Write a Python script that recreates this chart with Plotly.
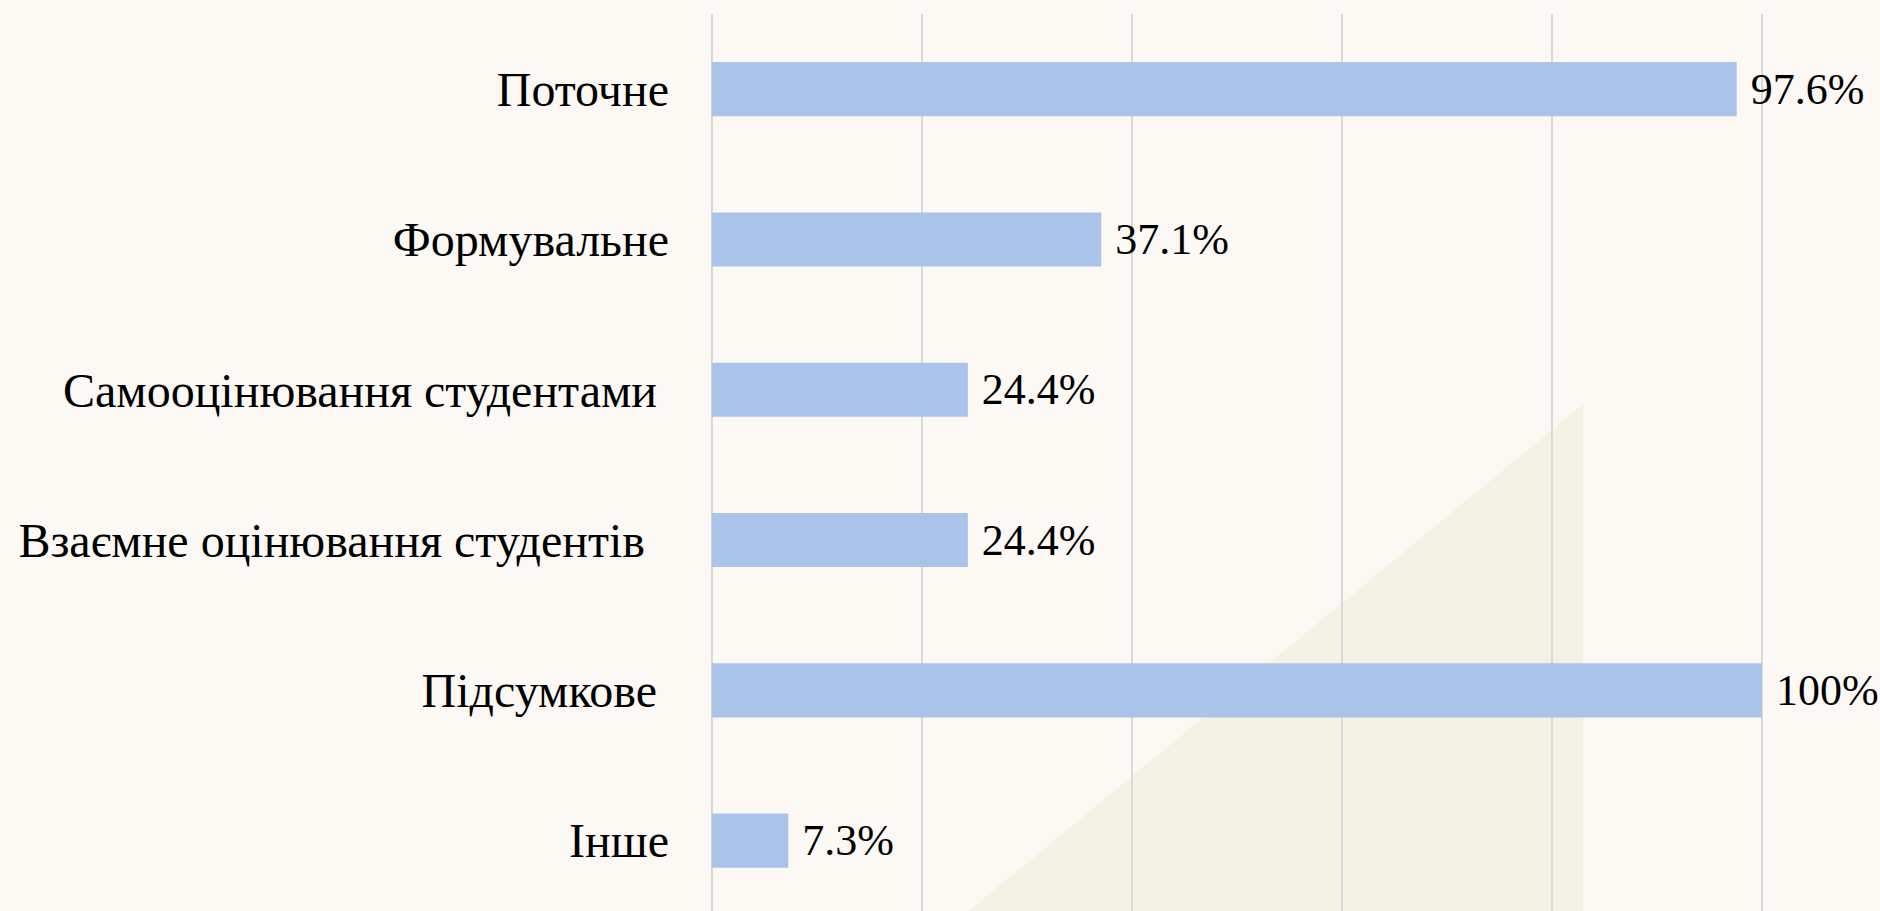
import plotly.graph_objects as go

categories = [
    "Поточне",
    "Формувальне",
    "Самооцінювання студентами\u00a0",
    "Взаємне оцінювання студентів\u00a0\u00a0",
    "Підсумкове\u00a0",
    "Інше",
]
values = [97.6, 37.1, 24.4, 24.4, 100, 7.3]
value_labels = ["97.6%", "37.1%", "24.4%", "24.4%", "100%", "7.3%"]
x_ticks = [0, 20, 40, 60, 80, 100]

BG = "#FCF9F4"
TRI = "#F4F2E4"
BAR = "#AAC4E9"
GRID = "#D9D9D9"
FONT = "Liberation Serif, Times New Roman, serif"

fig = go.Figure()
fig.add_trace(go.Bar(
    y=categories,
    x=values,
    orientation="h",
    marker=dict(color=BAR, line=dict(width=0)),
    width=0.36,
    text=["\u00a0" + t for t in value_labels],
    textposition="outside",
    textfont=dict(family=FONT, size=44, color="#000000"),
    cliponaxis=False,
    constraintext="none",
    hoverinfo="skip",
))

fig.add_shape(
    type="path",
    xref="paper", yref="paper",
    path="M 0.829 0.565 L 0.829 -0.02 L 0.225 -0.02 Z",
    fillcolor=TRI,
    line=dict(width=0),
    layer="below",
)

fig.update_layout(
    width=1880,
    height=911,
    margin=dict(l=710, r=117, t=14, b=0),
    paper_bgcolor=BG,
    plot_bgcolor="rgba(0,0,0,0)",
    showlegend=False,
    font=dict(family=FONT, color="#000000"),
    bargap=0.64,
)
fig.update_xaxes(
    range=[-0.15, 100.1],
    tickvals=x_ticks,
    showticklabels=False,
    showgrid=True,
    gridcolor=GRID,
    gridwidth=1.5,
    zeroline=False,
    showline=False,
)
fig.update_yaxes(
    type="category",
    categoryorder="array",
    categoryarray=categories,
    range=[5.468, -0.5],
    showgrid=False,
    zeroline=False,
    showline=False,
    tickfont=dict(family=FONT, size=48, color="#000000"),
    ticks="",
    ticklabelstandoff=40,
)

fig.write_html(
    "out.html",
    config={"displayModeBar": False},
    post_script="document.body.style.margin='0';document.body.style.overflow='hidden';document.body.style.background='" + BG + "';",
)
